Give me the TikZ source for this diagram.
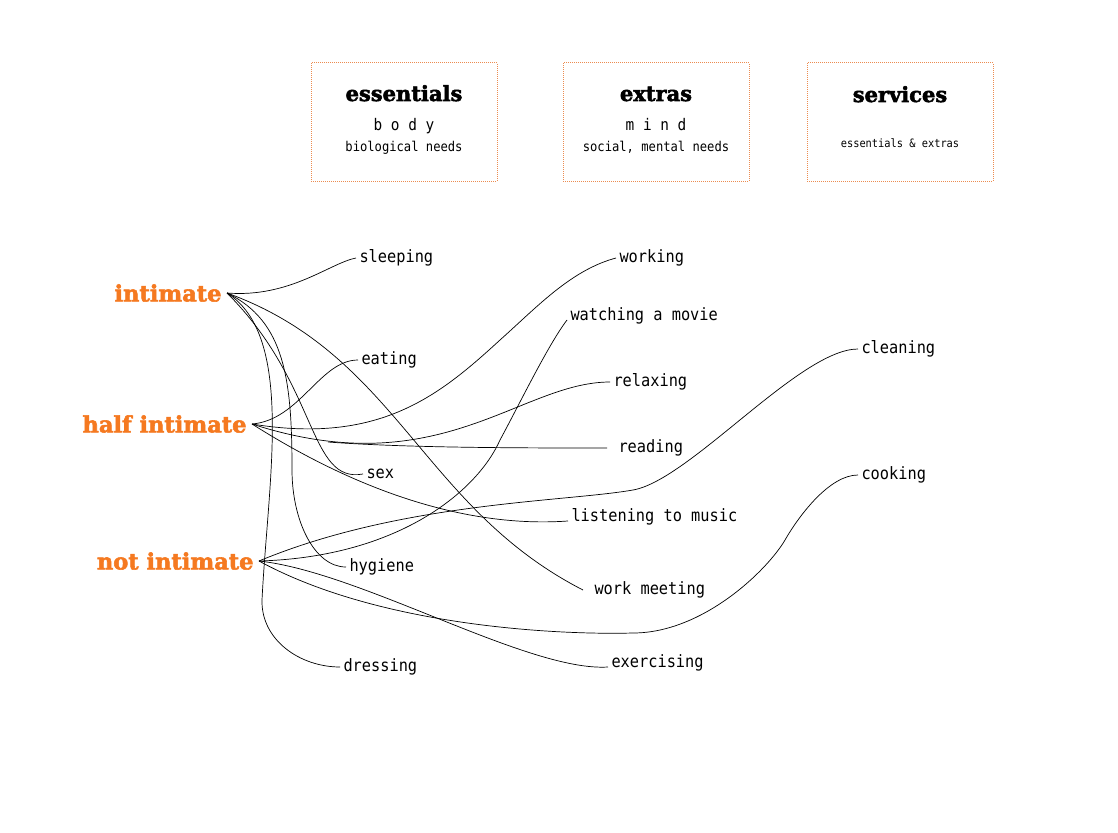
\documentclass[tikz,border=0pt]{standalone}
\usepackage{fontspec}
\newfontfamily\labelfont{DejaVu Sans Mono}[FakeStretch=0.9]
\newfontfamily\headfont{DejaVu Serif}[BoldFeatures={FakeBold=2.5}]
\definecolor{tone}{RGB}{245,121,32}
\definecolor{dotline}{RGB}{236,140,80}

\begin{document}
\begin{tikzpicture}[x=1pt,y=1pt,
    lvl/.style={anchor=east, text=tone, inner sep=1pt, outer sep=4.5pt,
      font=\headfont\bfseries\fontsize{22.5}{26}\selectfont},
    act/.style={anchor=west, inner sep=1.5pt, outer sep=2pt,
      font=\labelfont\fontsize{17}{20}\selectfont, text height=12pt, text depth=3.5pt},
    frame/.style={draw=dotline, dash pattern=on 1pt off 1pt, line width=1pt,
      minimum width=186pt, minimum height=118pt},
    head/.style={anchor=base, font=\headfont\bfseries\fontsize{21}{24}\selectfont},
    sub/.style={anchor=base, font=\labelfont\fontsize{13.5}{16}\selectfont},
    link/.style={draw, line width=0.7pt}]
\useasboundingbox (0,0) rectangle (1118,-832);

% boxes on top
\node[frame] (essbox) at (404,-122) {};
\node[frame] (extbox) at (656,-122) {};
\node[frame] (srvbox) at (900,-122) {};

\node[head] (ess) at (404,-101) {essentials};
\node[sub, font=\labelfont\fontsize{16}{18}\selectfont] (body) at (404,-130) {b o d y};
\node[sub] (bio) at (404,-151) {biological needs};
\node[head] (ext) at (656,-101) {extras};
\node[sub, font=\labelfont\fontsize{16}{18}\selectfont] (mind) at (656,-130) {m i n d};
\node[sub] (soc) at (656,-151) {social, mental needs};
\node[head] (srv) at (900,-102) {services};
\node[sub, font=\labelfont\fontsize{11.5}{14}\selectfont] (both) at (900,-147) {essentials \& extras};

% levels
\node[lvl] (intim) at (227,-293) {intimate};
\node[lvl] (half) at (252,-424) {half intimate};
\node[lvl] (notint) at (259,-561) {not intimate};

% activities
\node[act] (sleeping) at (356,-258) {sleeping};
\node[act] (eating) at (358,-360) {eating};
\node[act] (sex) at (363,-474) {sex};
\node[act] (hygiene) at (346,-567) {hygiene};
\node[act] (dressing) at (340,-667) {dressing};
\node[act] (working) at (616,-258) {working};
\node[act, anchor=base west] (movie) at (567,-320) {watching a movie};
\node[act] (relaxing) at (610,-382) {relaxing};
\node[act] (reading) at (615,-448) {reading};
\node[act, anchor=base west] (music) at (568,-521) {listening to music};
\node[act] (meeting) at (591,-590) {work meeting};
\node[act, anchor=base west] (exercising) at (608,-667) {exercising};
\node[act] (cleaning) at (858,-349) {cleaning};
\node[act] (cooking) at (858,-475) {cooking};
\coordinate (readfrom) at (328,-442);

% intimate
\draw[link] (intim.east) .. controls +(63,-5) and +(-26,-5) .. (sleeping.west);
\draw[link] (intim.east) .. controls +(171,-62) and +(-162,83) .. ([xshift=-8pt]meeting.west);
\draw[link] (intim.east) .. controls +(92,-92) and +(-55,-10) .. (sex.west);
\draw[link] (intim.east) .. controls +(58,-28) and +(0,90) .. (292,-470)
  .. controls +(0,-50) and +(-32,0) .. (hygiene.west);
\draw[link] (intim.east) .. controls +(68,-43) and +(6,120) .. (262,-600)
  .. controls +(-1,-40) and +(-40,0) .. (dressing.west);

% half intimate
\draw[link] (half.east) .. controls +(48,4) and +(-38,0) .. (eating.west);
\draw[link] (half.east) .. controls +(128,-21) and +(-60,-55) .. (500,-340)
  .. controls +(37,33) and +(-45,-12) .. (working.west);
\draw[link] (half.east) .. controls +(188,-61) and +(-90,0) .. (relaxing.west);
\draw[link] (readfrom) .. controls +(80,-6) and +(-80,0) .. ([xshift=-8pt]reading.west);
\draw[link] (half.east) .. controls +(150,-95) and +(-57,-4) .. (music.base west);

% not intimate
\draw[link] (notint.east) .. controls +(141,4) and +(-22,-50) .. (500,-440)
  .. controls +(19,35) and +(-19,-25) .. (movie.base west);
\draw[link] (notint.east) .. controls +(142,59) and +(-69,-12) .. (633,-490)
  .. controls +(57,10) and +(-58,0) .. (cleaning.west);
\draw[link] (notint.east) .. controls +(121,-66) and +(-73,-2) .. (633,-633)
  .. controls +(70,0) and +(-17.5,-30) .. (785,-540)
  .. controls +(15,26) and +(-28,0) .. (cooking.west);
\draw[link] (notint.east) .. controls +(102,-11) and +(-80,-5) .. (exercising.base west);
\end{tikzpicture}
\end{document}
